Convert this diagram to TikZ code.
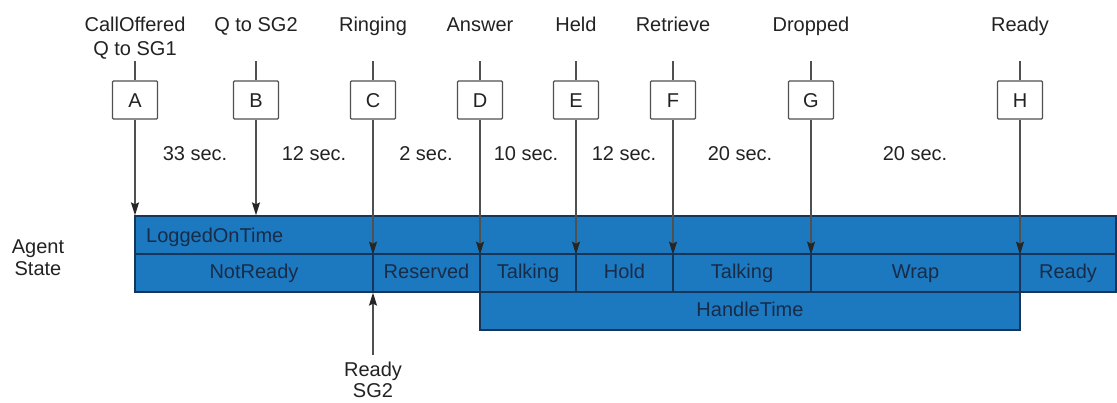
\documentclass[tikz,border=0pt]{standalone}
\usepackage{fontspec}
\setmainfont{Liberation Sans}
\usetikzlibrary{arrows.meta}
\definecolor{barfill}{HTML}{1C79C0}
\definecolor{barline}{HTML}{16355A}
\definecolor{bartext}{HTML}{182C48}
\definecolor{linegray}{HTML}{505050}
\definecolor{txt}{HTML}{222222}
\begin{document}
\begin{tikzpicture}[x=1pt,y=-1pt,
  every node/.style={font=\fontsize{20}{24}\selectfont, text=txt, inner sep=0pt},
  lbl/.style={align=center, anchor=north},
  onelbl/.style={anchor=base},
  dur/.style={anchor=base},
  evbox/.style={draw=linegray, line width=1.3pt, fill=white, minimum width=45pt, minimum height=38pt, rounded corners=1pt, text height=14pt, text depth=0pt},
  cell/.style={draw=barline, line width=1.3pt, fill=barfill, text=bartext, minimum height=38pt, text height=14.5pt, text depth=4pt},
  stub/.style={draw=linegray, line width=1.4pt},
  arr/.style={draw=linegray, line width=1.4pt, -{Stealth[length=13pt,width=8pt,inset=2pt,color=black!85,fill=black!85]}}
]
\useasboundingbox (0,0) rectangle (1117,402);
% bars
\node[cell, minimum width=981pt] (lot) at (625.5,235) {};
\node[text=bartext, anchor=base west] (lottxt) at (146,242) {LoggedOnTime};
\node[cell, minimum width=238pt] (nr) at (254,273) {NotReady};
\node[cell, minimum width=107pt] (rs) at (426.5,273) {Reserved};
\node[cell, minimum width=96pt] (t1) at (528,273) {Talking};
\node[cell, minimum width=97pt] (ho) at (624.5,273) {Hold};
\node[cell, minimum width=138pt] (t2) at (742,273) {Talking};
\node[cell, minimum width=209pt] (wr) at (915.5,273) {Wrap};
\node[cell, minimum width=96pt] (rd) at (1068,273) {Ready};
\node[cell, minimum width=540pt] (ht) at (750,311) {HandleTime};
% agent state
\node[align=center, font=\fontsize{20}{22}\selectfont] (as) at (38,258) {Agent\\State};
% event boxes
\foreach \n/\x/\t in {A/135/A, B/256/B, C/373/C, D/480/D, E/576/E, F/673/F, G/811/G, H/1020/H}{
  \node[evbox] (\n) at (\x,100) {\t};
  \draw[stub] (\n.north) -- ++(0,-19);
}
% top labels
\node[lbl] (lA) at (135,17) {CallOffered\\Q to SG1};
\node[onelbl] (lB) at (256,31.5) {Q to SG2};
\node[onelbl] (lC) at (373,31.5) {Ringing};
\node[onelbl] (lD) at (480,31.5) {Answer};
\node[onelbl] (lE) at (576,31.5) {Held};
\node[onelbl] (lF) at (673,31.5) {Retrieve};
\node[onelbl] (lG) at (811,31.5) {Dropped};
\node[onelbl] (lH) at (1020,31.5) {Ready};
% arrows
\draw[arr] (A.south) -- (A.south |- lot.north);
\draw[arr] (B.south) -- (B.south |- lot.north);
\foreach \n in {C,D,E,F,G,H}{
  \draw[arr] (\n.south) -- (\n.south |- lot.south);
}
% durations
\node[dur] (d1) at (195,160) {33 sec.};
\node[dur] (d2) at (314,160) {12 sec.};
\node[dur] (d3) at (426,160) {2 sec.};
\node[dur] (d4) at (526,160) {10 sec.};
\node[dur] (d5) at (624,160) {12 sec.};
\node[dur] (d6) at (740,160) {20 sec.};
\node[dur] (d7) at (915,160) {20 sec.};
% Ready SG2
\node[align=center, anchor=north, font=\fontsize{20}{21}\selectfont] (rsg) at (373,362) {Ready\\SG2};
\coordinate (rsgtop) at (373,355);
\draw[arr] (rsgtop) -- (rsgtop |- nr.south);
\end{tikzpicture}
\end{document}
